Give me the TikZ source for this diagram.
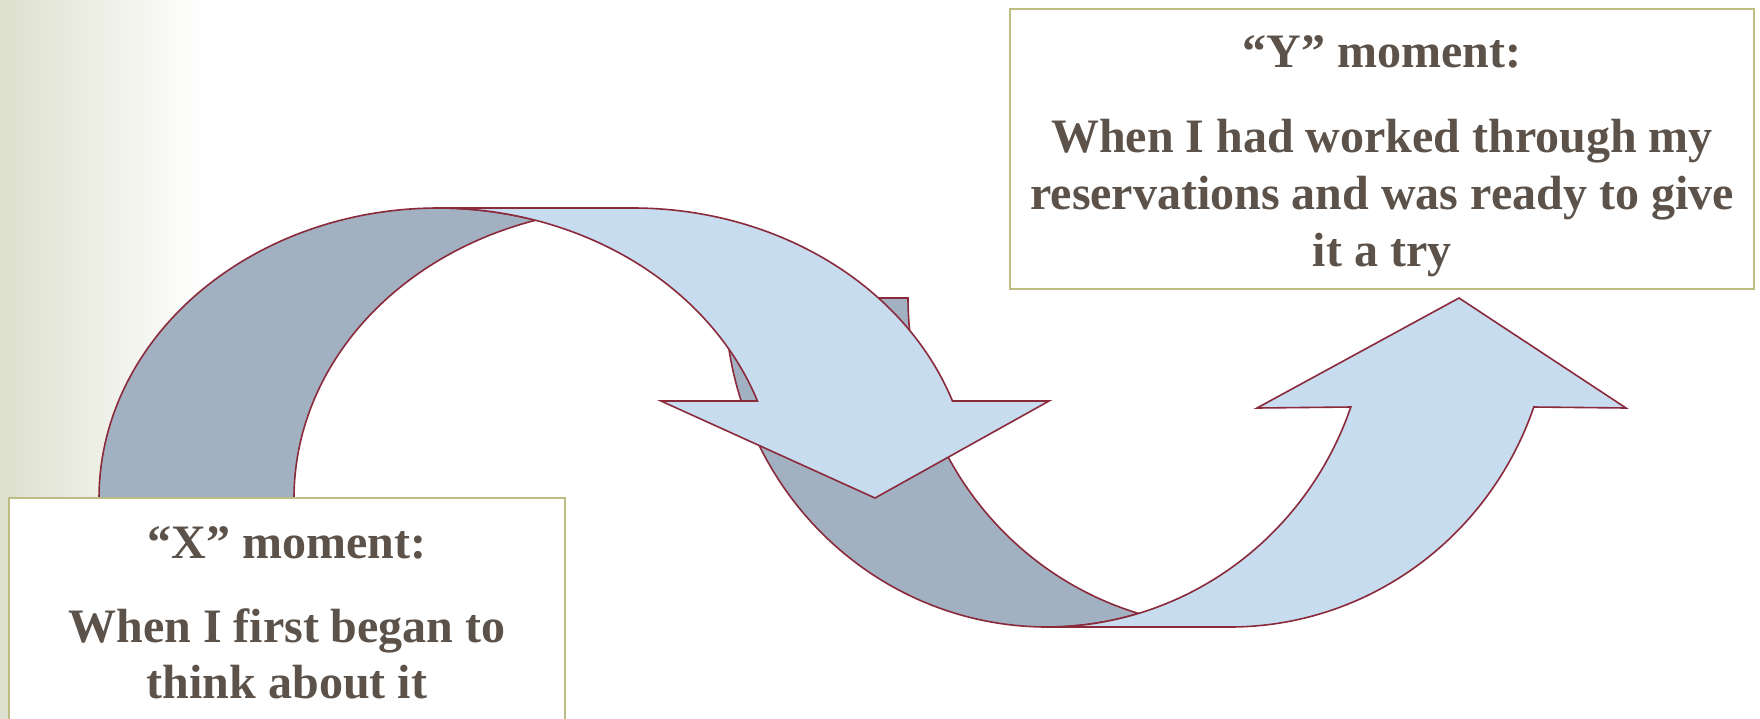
\documentclass[tikz,border=0pt]{standalone}
\usepackage{fontspec}
\setmainfont{Liberation Serif}
\definecolor{txt}{HTML}{5C5249}
\definecolor{lightfill}{HTML}{C7DCEF}
\definecolor{darkfill}{HTML}{A2B1C2}
\definecolor{edge}{HTML}{8A2A3A}
\definecolor{boxline}{HTML}{BDBC84}
\definecolor{bgleft}{HTML}{DDE0CE}
\tikzset{
  frontband/.style={fill=lightfill, draw=edge, line width=1.6pt, line join=miter},
  backband/.style={fill=darkfill, draw=edge, line width=1.6pt, line join=miter},
  textbox/.style={draw=boxline, fill=white, line width=1.8pt, inner sep=0pt},
  txtline/.style={anchor=base, text=txt, inner sep=0pt, font=\fontsize{48}{57}\selectfont\bfseries}
}
\begin{document}
\begin{tikzpicture}[x=1pt,y=-1pt]
\useasboundingbox (0,0) rectangle (1760,718);
\begin{scope}
\clip (0,0) rectangle (1760,718);
\fill[white] (0,0) rectangle (1760,718);
\shade[left color=bgleft, right color=white] (0,0) rectangle (205,718);

% second arrow (curved up) : back band
\path[backband] (725,298)
  -- plot[domain=180:106.5,samples=80] ({1230+322*cos(\x)},{298+329*sin(\x)})
  -- plot[domain=73.5:180,samples=80] ({1047+322*cos(\x)},{298+329*sin(\x)})
  -- cycle;
% second arrow : front band
\path[frontband] (1047,627) -- (1230,627)
  -- plot[domain=90:19.35,samples=80] ({1230+322*cos(\x)},{298+329*sin(\x)})
  -- (1626,408) -- (1459,298) -- (1257,408)
  -- plot[domain=19.35:90,samples=80] ({1047+322*cos(\x)},{298+329*sin(\x)})
  -- cycle;

% first arrow (curved down) : back band
\path[backband] (99,498)
  -- plot[domain=180:73.3,samples=80] ({438+339*cos(\x)},{498-290*sin(\x)})
  -- plot[domain=106.7:180,samples=80] ({633+339*cos(\x)},{498-290*sin(\x)})
  -- cycle;
% first arrow : front band
\path[frontband] (438,208) -- (633,208)
  -- plot[domain=90:19.54,samples=80] ({633+339*cos(\x)},{498-290*sin(\x)})
  -- (1049,401) -- (875,498) -- (661,401)
  -- plot[domain=19.54:90,samples=80] ({438+339*cos(\x)},{498-290*sin(\x)})
  -- cycle;

% boxes
\node[textbox, minimum width=744pt, minimum height=280pt] (ybox) at (1382,149) {};
\node[textbox, minimum width=556pt, minimum height=240pt] (xbox) at (287,618) {};
\end{scope}

\node[txtline] (yhead) at (1382,67) {“Y” moment:};
\node[txtline] (yl1) at (1382,152) {When I had worked through my};
\node[txtline] (yl2) at (1382,209) {reservations and was ready to give};
\node[txtline] (yl3) at (1382,266) {it a try};

\node[txtline] (xhead) at (287,558) {“X” moment:};
\node[txtline] (xl1) at (287,642) {When I first began to};
\node[txtline] (xl2) at (287,698) {think about it};
\end{tikzpicture}
\end{document}
